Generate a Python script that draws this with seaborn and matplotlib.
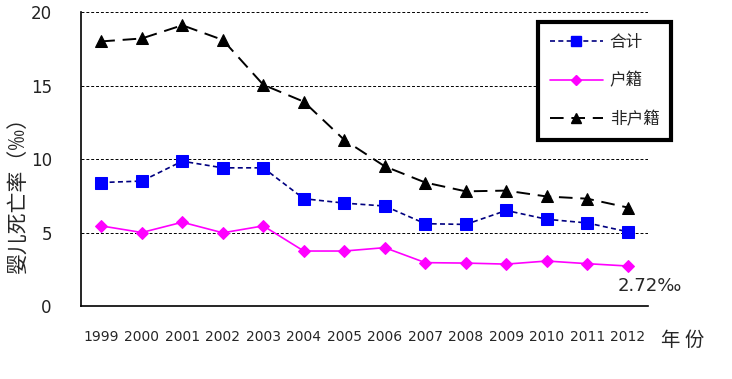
import matplotlib
matplotlib.use("Agg")
import matplotlib.pyplot as plt
import seaborn as sns
from matplotlib.lines import Line2D

years = ["1999", "2000", "2001", "2002", "2003", "2004", "2005",
         "2006", "2007", "2008", "2009", "2010", "2011", "2012"]

total = [8.4, 8.5, 9.85, 9.4, 9.4, 7.3, 7.0,
         6.8, 5.6, 5.55, 6.5, 5.9, 5.65, 5.05]
registered = [5.45, 5.0, 5.7, 4.98, 5.45, 3.74, 3.74,
              3.97, 2.95, 2.92, 2.85, 3.06, 2.88, 2.72]
non_registered = [18.0, 18.2, 19.1, 18.1, 15.05, 13.9, 11.3,
                  9.5, 8.4, 7.8, 7.85, 7.45, 7.3, 6.7]

series_names = ["合计", "户籍", "非户籍"]
y_ticks = [0, 5, 10, 15, 20]

sns.set_style("white")
plt.rcParams["font.family"] = ["Noto Sans CJK SC", "DejaVu Sans"]

fig = plt.figure(figsize=(7.32, 3.79), dpi=100)
ax = fig.add_axes([0.1107, 0.1926, 0.7746, 0.7757])

x_idx = list(range(len(years)))

# -----------------------
# Lines
# -----------------------

sns.lineplot(
    x=x_idx, y=total, ax=ax,
    color="#000080", linewidth=1.2,
    marker="s", markersize=8,
    markerfacecolor="#0000FF", markeredgecolor="#0000FF"
)
ax.lines[-1].set_dashes([3, 2])

sns.lineplot(
    x=x_idx, y=registered, ax=ax,
    color="#FF00FF", linewidth=1.2,
    marker="D", markersize=6,
    markerfacecolor="#FF00FF", markeredgecolor="#FF00FF"
)

sns.lineplot(
    x=x_idx, y=non_registered, ax=ax,
    color="black", linewidth=1.4,
    marker="^", markersize=8,
    markerfacecolor="black", markeredgecolor="black"
)
ax.lines[-1].set_dashes([7, 4])

# -----------------------
# Axes
# -----------------------

ax.set_xlim(-0.5, len(years) - 0.5)
ax.set_ylim(0, 20)

ax.set_yticks(y_ticks)
ax.set_yticklabels([str(v) for v in y_ticks], fontsize=12,
                   family="DejaVu Sans", color="#222222")
ax.tick_params(axis="y", length=0, pad=21)

ax.set_xticks(x_idx)
ax.set_xticklabels(years, fontsize=10, family="DejaVu Sans")
ax.tick_params(axis="x", which="major", length=0, pad=17)
ax.set_xticks([i + 0.5 for i in x_idx], minor=True)
ax.tick_params(axis="x", which="minor", direction="in", length=4,
               width=1, color="black")

for v in y_ticks[1:]:
    ax.axhline(v, color="black", linewidth=0.7, linestyle=(0, (3, 2)),
               zorder=0)

for side in ["top", "right"]:
    ax.spines[side].set_visible(False)
for side in ["left", "bottom"]:
    ax.spines[side].set_color("black")
    ax.spines[side].set_linewidth(1.2)

ax.set_xlabel("")
ax.set_ylabel("")
fig.text(0.025, 0.50, "婴儿死亡率（‰）", fontsize=15, rotation=90,
         ha="center", va="center")

fig.text(0.903, 0.102, "年 份", fontsize=14, ha="left", va="center")
ax.text(12.76, 2.72 - 1.35, "2.72‰", fontsize=13, ha="left",
        va="center", family="DejaVu Sans")

# -----------------------
# Legend
# -----------------------

handles = [
    Line2D([], [], color="#000080", linewidth=1.2, dashes=[3, 2],
           marker="s", markersize=7, markerfacecolor="#0000FF",
           markeredgecolor="#0000FF"),
    Line2D([], [], color="#FF00FF", linewidth=1.2,
           marker="D", markersize=5, markerfacecolor="#FF00FF",
           markeredgecolor="#FF00FF"),
    Line2D([], [], color="black", linewidth=1.4, dashes=[7, 4],
           marker="^", markersize=7, markerfacecolor="black",
           markeredgecolor="black"),
]
leg = ax.legend(
    handles, series_names,
    loc="upper left", bbox_to_anchor=(0.806, 0.966),
    borderaxespad=0,
    fontsize=12, handlelength=3.2, labelspacing=1.3,
    borderpad=0.7, handletextpad=0.4,
    frameon=True, fancybox=False, framealpha=1
)
leg.get_frame().set_edgecolor("black")
leg.get_frame().set_linewidth(3)

fig.savefig("out.png", dpi=100)
plt.close(fig)
